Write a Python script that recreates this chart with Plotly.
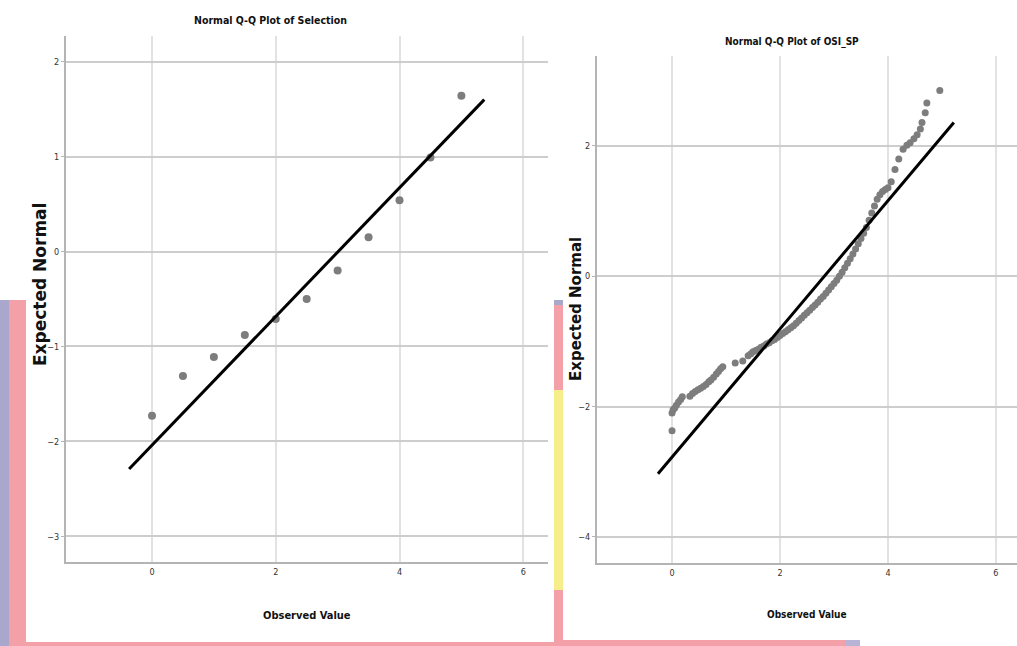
import plotly.graph_objects as go

W, H = 1017, 646

# ---- Left panel: Selection ----
sel_observed = [0, 0.5, 1, 1.5, 2, 2.5, 3, 3.5, 4, 4.5, 5]
sel_expected = [-1.73, -1.31, -1.11, -0.88, -0.71, -0.50, -0.20, 0.15, 0.54, 0.99, 1.64]
sel_fit_x = [-0.37, 5.37]
sel_fit_y = [-2.29, 1.60]

# ---- Right panel: OSI_SP ----
osi_observed = [0.00, 0.00, 0.02, 0.05, 0.08, 0.12, 0.16, 0.19,
                0.33, 0.38, 0.43, 0.48, 0.53, 0.58, 0.63, 0.68, 0.72, 0.77, 0.82, 0.86, 0.90, 0.94,
                1.17, 1.31,
                1.41, 1.46, 1.50, 1.55, 1.60, 1.65, 1.70, 1.75, 1.80, 1.85, 1.90, 1.95, 2.00,
                2.05, 2.10, 2.15, 2.20, 2.25, 2.30, 2.35, 2.40, 2.45, 2.50, 2.55, 2.60, 2.65,
                2.70, 2.75, 2.80, 2.85, 2.90, 2.95, 3.00, 3.05, 3.10, 3.15, 3.20, 3.25, 3.30,
                3.35, 3.40, 3.45, 3.50, 3.55, 3.60, 3.65, 3.70, 3.75, 3.80, 3.85, 3.90, 3.95, 4.00,
                4.06, 4.13, 4.20, 4.28, 4.35, 4.41, 4.48, 4.54, 4.60, 4.63, 4.69, 4.72, 4.96]
osi_expected = [-2.37, -2.10, -2.05, -2.02, -1.98, -1.93, -1.89, -1.85,
                -1.84, -1.80, -1.77, -1.74, -1.72, -1.69, -1.66, -1.62, -1.59, -1.55, -1.50, -1.46, -1.42, -1.39,
                -1.33, -1.30,
                -1.22, -1.19, -1.16, -1.14, -1.12, -1.09, -1.07, -1.04, -1.02, -0.99, -0.97, -0.94, -0.91,
                -0.88, -0.85, -0.82, -0.79, -0.76, -0.72, -0.68, -0.64, -0.60, -0.56, -0.52, -0.48, -0.44,
                -0.40, -0.35, -0.31, -0.26, -0.21, -0.16, -0.11, -0.06, 0.00, 0.06, 0.13, 0.20, 0.27,
                0.34, 0.42, 0.50, 0.58, 0.66, 0.75, 0.86, 0.97, 1.08, 1.18, 1.25, 1.30, 1.33, 1.36,
                1.45, 1.64, 1.80, 1.95, 2.01, 2.05, 2.11, 2.17, 2.26, 2.36, 2.51, 2.66, 2.85]
osi_fit_x = [-0.26, 5.22]
osi_fit_y = [-3.03, 2.36]

x_ticks = [0, 2, 4, 6]
sel_y_ticks = [-3, -2, -1, 0, 1, 2]
osi_y_ticks = [-4, -2, 0, 2]


def px(x):
    return x / W


def py(y):
    return 1 - y / H


POINT = "rgb(125,125,125)"
NARROW = "DejaVu Sans Condensed, Liberation Sans, sans-serif"

fig = go.Figure()
fig.add_trace(go.Scatter(x=sel_observed, y=sel_expected, mode="markers",
                         marker=dict(size=8, color=POINT), xaxis="x", yaxis="y",
                         showlegend=False))
fig.add_trace(go.Scatter(x=sel_fit_x, y=sel_fit_y, mode="lines",
                         line=dict(color="black", width=3), xaxis="x", yaxis="y",
                         showlegend=False))
fig.add_trace(go.Scatter(x=osi_observed, y=osi_expected, mode="markers",
                         marker=dict(size=7, color=POINT), xaxis="x2", yaxis="y2",
                         showlegend=False))
fig.add_trace(go.Scatter(x=osi_fit_x, y=osi_fit_y, mode="lines",
                         line=dict(color="black", width=3), xaxis="x2", yaxis="y2",
                         showlegend=False))

xcommon = dict(showgrid=True, gridcolor="#e2e2e2", gridwidth=1.5, zeroline=False,
               showline=True, linecolor="#b4b4b4", linewidth=2, tickvals=x_ticks,
               ticks="", tickfont=dict(family=NARROW, size=9, color="#333"),
               fixedrange=True)
ycommon = dict(showgrid=True, gridcolor="#cdcdcd", gridwidth=1.5, zeroline=False,
               showline=True, linecolor="#b4b4b4", linewidth=2,
               ticks="outside", ticklen=3, tickcolor="#b4b4b4",
               tickfont=dict(family=NARROW, size=9, color="#333"), fixedrange=True)

fig.update_layout(
    width=W, height=H, margin=dict(l=0, r=0, t=0, b=0),
    paper_bgcolor="white", plot_bgcolor="white",
    xaxis=dict(xcommon, domain=[px(66), px(548)], range=[-1.39, 6.4], anchor="y"),
    yaxis=dict(ycommon, domain=[py(562), py(36)], range=[-3.27, 2.27],
               tickvals=sel_y_ticks, anchor="x"),
    xaxis2=dict(xcommon, domain=[px(597), 1.0], range=[-1.39, 6.39], anchor="y2"),
    yaxis2=dict(ycommon, domain=[py(563), py(56)], range=[-4.4, 3.38],
                tickvals=osi_y_ticks, anchor="x2"),
)

annotations = [
    dict(text="Normal Q-Q Plot of Selection", x=px(270), y=py(20), size=10.5),
    dict(text="Normal Q-Q Plot of OSI_SP", x=px(792), y=py(42), size=10),
    dict(text="Observed Value", x=px(307), y=py(615), size=11),
    dict(text="Observed Value", x=px(807), y=py(614), size=10),
]
for a in annotations:
    fig.add_annotation(text=a["text"], x=a["x"], y=a["y"], xref="paper", yref="paper",
                       showarrow=False, xanchor="center", yanchor="middle",
                       font=dict(family=NARROW, size=a["size"], color="#111", weight=600))

fig.add_annotation(text="<b>Expected Normal</b>", x=px(40), y=py(285), xref="paper",
                   yref="paper", showarrow=False, textangle=-90,
                   xanchor="center", yanchor="middle",
                   font=dict(family="DejaVu Sans", size=17, color="#111"))
fig.add_annotation(text="<b>Expected Normal</b>", x=px(576), y=py(309), xref="paper",
                   yref="paper", showarrow=False, textangle=-90,
                   xanchor="center", yanchor="middle",
                   font=dict(family="DejaVu Sans", size=15, color="#111"))

# background artefacts from the underlying slide
shapes = [
    (0, 300, 9, 646, "#a9a8cc"),
    (9, 300, 26, 646, "#f3a0a8"),
    (26, 642, 555, 646, "#f3a0a8"),
    (554, 300, 563, 646, "#f3a0a8"),
    (554, 300, 563, 305, "#a9a8cc"),
    (554, 390, 563, 590, "#f5ee8a"),
    (555, 640, 845, 646, "#f3a0a8"),
    (845, 640, 860, 646, "#b8b4d8"),
]
for x0, y0, x1, y1, c in shapes:
    fig.add_shape(type="rect", xref="paper", yref="paper", x0=px(x0), x1=px(x1),
                  y0=py(y1), y1=py(y0), fillcolor=c, line=dict(width=0), layer="above")

fig.write_html("out.html", config={"displayModeBar": False},
               post_script="document.body.style.margin='0px';document.body.style.overflow='hidden';")
